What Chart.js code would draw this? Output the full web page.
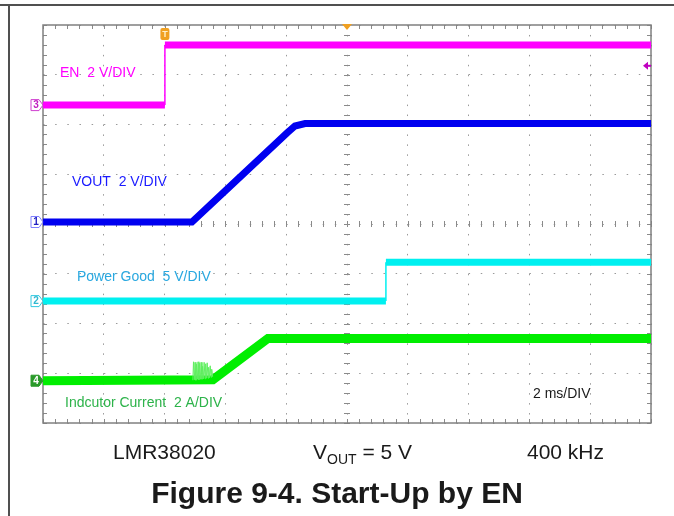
<!DOCTYPE html>
<html>
<head>
<meta charset="utf-8">
<script src="https://cdn.jsdelivr.net/npm/chart.js@4.4.0/dist/chart.umd.min.js"></script>
<style>
html, body { margin: 0; padding: 0; background: #fff; }
#wrap { position: relative; width: 674px; height: 516px; overflow: hidden; }
#wrap canvas { position: absolute; left: 0; top: 0; }
.edge-top { position: absolute; left: 0; top: 4px; width: 674px; height: 2px; background: #505050; }
.edge-left { position: absolute; left: 8px; top: 4px; width: 2px; height: 512px; background: #505050; }
</style>
</head>
<body>
<div id="wrap">
    <canvas id="scope" width="674" height="516"></canvas>
    <div class="edge-top"></div>
    <div class="edge-left"></div>
</div>
<script>
// 时间轴：ms，每格 2 ms，共 10 格；纵轴单位为格 (0-8)
const xTicks = [0, 2, 4, 6, 8, 10, 12, 14, 16, 18, 20];
const yTicks = [0, 1, 2, 3, 4, 5, 6, 7, 8];

// EN 2 V/DIV
const enT = [0, 4.01, 4.01, 20];
const enV = [6.39, 6.39, 7.60, 7.60];

// VOUT 2 V/DIV
const voutT = [0, 4.90, 6.02, 8.03, 8.29, 8.62, 20];
const voutV = [4.04, 4.04, 4.68, 5.83, 5.97, 6.02, 6.02];

// Power Good 5 V/DIV
const pgT = [0, 11.28, 11.28, 20];
const pgV = [2.45, 2.45, 3.23, 3.23];

// Inductor current 2 A/DIV
const ilT = [0, 5.59, 7.40, 20];
const ilV = [0.85, 0.87, 1.70, 1.70];

// 电感电流启动时的尖峰
const ilSpikeT = [4.93, 4.95, 4.98, 5.00, 5.03, 5.05, 5.08, 5.10, 5.13, 5.15, 5.18, 5.20, 5.23, 5.25, 5.28, 5.30, 5.33, 5.35, 5.38, 5.40, 5.43, 5.45, 5.48, 5.50, 5.53, 5.55, 5.58];
const ilSpikeV = [0.86, 1.23, 0.87, 1.22, 0.86, 1.18, 0.88, 1.23, 0.87, 1.20, 0.88, 1.22, 0.88, 1.14, 0.89, 1.22, 0.89, 1.19, 0.90, 1.21, 0.90, 1.12, 0.91, 1.15, 0.92, 1.08, 0.93];

const enTrigLevel = 7.18;

function pts(ts, vs) {
    return ts.map((t, i) => ({ x: t, y: vs[i] }));
}

// 竖直跳变用细线，其余用粗线
function trace(label, ts, vs, color, width, tag) {
    return {
        label: label,
        data: pts(ts, vs),
        borderColor: color,
        borderWidth: width,
        pointRadius: 0,
        tension: 0,
        borderJoinStyle: 'miter',
        borderCapStyle: 'butt',
        tag: tag,
        segment: {
            borderWidth: c => (c.p0.parsed.x === c.p1.parsed.x ? 1.5 : width)
        }
    };
}

const font = '"Liberation Sans", Arial, sans-serif';

// 示波器刻度、通道标记和文字
const scopeDecor = {
    id: 'scopeDecor',
    beforeDatasetsDraw(chart) {
        const { ctx, chartArea: a, scales: { x, y } } = chart;
        const cx = x.getPixelForValue(10);
        const cy = y.getPixelForValue(4);
        ctx.save();
        ctx.strokeStyle = '#8a8a8a';
        ctx.lineWidth = 1;
        ctx.beginPath();
        for (let i = 0; i <= 50; i++) {
            const px = Math.round(x.getPixelForValue(i * 0.4)) + 0.5;
            ctx.moveTo(px, cy - 3); ctx.lineTo(px, cy + 3);
            ctx.moveTo(px, a.top); ctx.lineTo(px, a.top + 4);
            ctx.moveTo(px, a.bottom); ctx.lineTo(px, a.bottom - 4);
        }
        for (let i = 0; i <= 40; i++) {
            const py = Math.round(y.getPixelForValue(i * 0.2)) + 0.5;
            ctx.moveTo(cx - 3, py); ctx.lineTo(cx + 3, py);
            ctx.moveTo(a.left, py); ctx.lineTo(a.left + 4, py);
            ctx.moveTo(a.right, py); ctx.lineTo(a.right - 4, py);
        }
        ctx.stroke();
        ctx.strokeStyle = '#808080';
        ctx.lineWidth = 1.5;
        ctx.strokeRect(a.left, a.top, a.width, a.height);
        ctx.restore();
    },
    afterDatasetsDraw(chart) {
        const { ctx, chartArea: a, scales: { x, y } } = chart;
        ctx.save();
        // 通道编号标记
        chart.data.datasets.forEach(ds => {
            if (!ds.tag) return;
            const py = y.getPixelForValue(ds.data[0].y);
            const t = ds.tag;
            ctx.beginPath();
            ctx.moveTo(a.left - 12, py - 5.5);
            ctx.lineTo(a.left - 4, py - 5.5);
            ctx.lineTo(a.left, py);
            ctx.lineTo(a.left - 4, py + 5.5);
            ctx.lineTo(a.left - 12, py + 5.5);
            ctx.closePath();
            ctx.fillStyle = t.fill;
            ctx.fill();
            ctx.strokeStyle = t.line;
            ctx.lineWidth = 1;
            ctx.stroke();
            ctx.fillStyle = t.text;
            ctx.font = 'bold 10px ' + font;
            ctx.textAlign = 'center';
            ctx.textBaseline = 'middle';
            ctx.fillText(t.num, a.left - 7, py + 0.5);
        });
        // 触发点 T
        const tx = x.getPixelForValue(enT[1]);
        ctx.fillStyle = '#f0a020';
        ctx.beginPath();
        ctx.roundRect(tx - 4.5, a.top + 3, 9, 12, 2);
        ctx.fill();
        ctx.fillStyle = '#fff0c8';
        ctx.font = 'bold 9px ' + font;
        ctx.textAlign = 'center';
        ctx.textBaseline = 'middle';
        ctx.fillText('T', tx, a.top + 9.5);
        // 触发位置三角
        const mx = x.getPixelForValue(10);
        ctx.fillStyle = '#f0a020';
        ctx.beginPath();
        ctx.moveTo(mx - 5, a.top - 1);
        ctx.lineTo(mx + 5, a.top - 1);
        ctx.lineTo(mx, a.top + 5);
        ctx.closePath();
        ctx.fill();
        // 触发电平
        const ly = y.getPixelForValue(enTrigLevel);
        ctx.fillStyle = '#c000c0';
        ctx.beginPath();
        ctx.moveTo(a.right - 8, ly);
        ctx.lineTo(a.right - 3, ly - 4);
        ctx.lineTo(a.right - 3, ly + 4);
        ctx.closePath();
        ctx.fill();
        ctx.fillRect(a.right - 4, ly - 1, 4, 2);
        ctx.restore();
    },
    afterDraw(chart) {
        const { ctx } = chart;
        ctx.save();
        ctx.textAlign = 'left';
        ctx.textBaseline = 'alphabetic';
        ctx.font = '14px ' + font;
        ctx.fillStyle = '#ff00ff';
        ctx.fillText('EN  2 V/DIV', 60, 77);
        ctx.fillStyle = '#1a1aff';
        ctx.fillText('VOUT  2 V/DIV', 72, 186);
        ctx.fillStyle = '#29a8e0';
        ctx.fillText('Power Good  5 V/DIV', 77, 281);
        ctx.fillStyle = '#2db34a';
        ctx.fillText('Indcutor Current  2 A/DIV', 65, 407);
        ctx.fillStyle = '#1a1a1a';
        ctx.fillText('2 ms/DIV', 533, 398);

        // 图下说明
        ctx.font = '21px ' + font;
        ctx.fillText('LMR38020', 113, 459);
        ctx.textAlign = 'right';
        ctx.fillText('400 kHz', 604, 459);
        ctx.textAlign = 'left';
        let vx = 313;
        ctx.fillText('V', vx, 459);
        vx += ctx.measureText('V').width;
        ctx.font = '14px ' + font;
        ctx.fillText('OUT', vx, 464);
        vx += ctx.measureText('OUT').width;
        ctx.font = '21px ' + font;
        ctx.fillText(' = 5 V', vx, 459);

        ctx.font = 'bold 30px ' + font;
        ctx.textAlign = 'center';
        ctx.fillText('Figure 9-4. Start-Up by EN', 337, 503);
        ctx.restore();
    }
};

const ctx = document.getElementById('scope').getContext('2d');

const chart = new Chart(ctx, {
    type: 'line',
    data: {
        datasets: [
            trace('EN', enT, enV, '#ff00ff', 7, { num: '3', fill: '#fff', line: '#d040d0', text: '#c020c0' }),
            trace('VOUT', voutT, voutV, '#0000f0', 7, { num: '1', fill: '#fff', line: '#8080ff', text: '#2020c0' }),
            trace('Power Good', pgT, pgV, '#00f0f0', 7, { num: '2', fill: '#fff', line: '#30c8e0', text: '#30b8d0' }),
            {
                label: 'IL spikes',
                data: pts(ilSpikeT, ilSpikeV),
                borderColor: '#60ee60',
                borderWidth: 1,
                pointRadius: 0,
                tension: 0
            },
            trace('Inductor Current', ilT, ilV, '#00ee00', 9, { num: '4', fill: '#2a9a2a', line: '#2a9a2a', text: '#ffffff' })
        ]
    },
    options: {
        responsive: false,
        animation: false,
        layout: {
            padding: { left: 43, right: 23, top: 25, bottom: 93 }
        },
        plugins: {
            legend: { display: false },
            tooltip: { enabled: false }
        },
        scales: {
            x: {
                type: 'linear',
                min: 0,
                max: 20,
                afterBuildTicks: s => { s.ticks = xTicks.map(v => ({ value: v })); },
                afterFit: s => { s.height = 0; },
                ticks: { display: false },
                grid: { color: '#9a9a9a', lineWidth: 1, drawTicks: false },
                border: { display: false, dash: [1.5, 8.45] }
            },
            y: {
                type: 'linear',
                min: 0,
                max: 8,
                afterBuildTicks: s => { s.ticks = yTicks.map(v => ({ value: v })); },
                afterFit: s => { s.width = 0; },
                ticks: { display: false },
                grid: { color: '#9a9a9a', lineWidth: 1, drawTicks: false },
                border: { display: false, dash: [1.5, 10.66] }
            }
        }
    },
    plugins: [scopeDecor]
});
</script>
</body>
</html>
